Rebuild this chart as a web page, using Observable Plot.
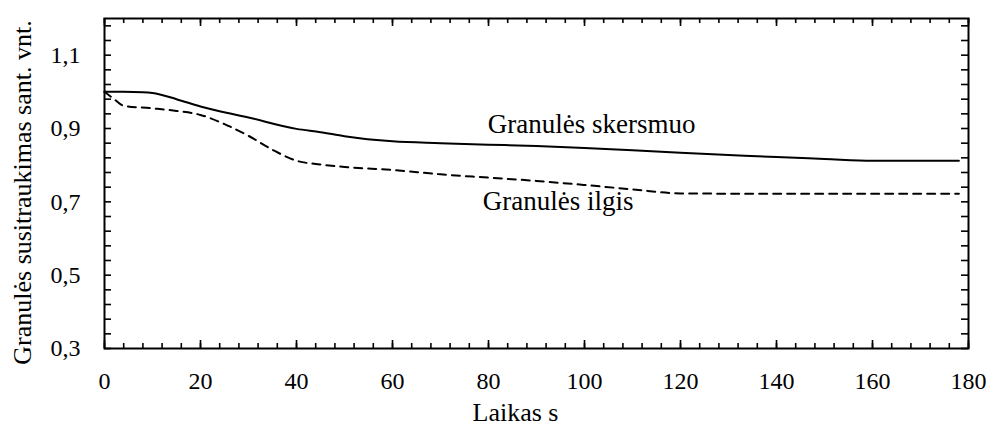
<!DOCTYPE html>
<html>
<head>
<meta charset="utf-8">
<script src="https://cdn.jsdelivr.net/npm/d3@7"></script>
<script src="https://cdn.jsdelivr.net/npm/@observablehq/plot@0.6"></script>
<style>
  html, body { margin: 0; padding: 0; background: #fff; }
  #chart svg, #chart svg text { font-family: "Liberation Serif", Tinos, "Times New Roman", Times, serif !important; }
</style>
</head>
<body>
<div id="chart"></div>
<script>
// Granule diameter (solid) and length (dashed) relative shrinkage over time
const diameterTime  = [0, 4, 8, 10, 15, 20, 30, 40, 45, 50, 60, 70, 80, 90, 100, 110, 120, 130, 140, 150, 160, 170, 178];
const diameterValue = [1.0, 1.0, 0.999, 0.997, 0.98, 0.96, 0.93, 0.899, 0.89, 0.879, 0.865, 0.86, 0.856, 0.852, 0.847, 0.841, 0.834, 0.828, 0.822, 0.817, 0.812, 0.812, 0.812];

const lengthTime  = [0, 2, 4, 10, 15, 20, 25, 30, 35, 40, 45, 50, 60, 70, 80, 90, 100, 110, 120, 140, 160, 178];
const lengthValue = [1.0, 0.98, 0.962, 0.955, 0.948, 0.937, 0.912, 0.88, 0.842, 0.812, 0.802, 0.795, 0.787, 0.775, 0.766, 0.757, 0.746, 0.734, 0.723, 0.722, 0.722, 0.722];

const xTicks = [0, 20, 40, 60, 80, 100, 120, 140, 160, 180];
const yTicks = [0.3, 0.5, 0.7, 0.9, 1.1];
const xMinorStep = 4;
const yMinorStep = 0.04;

const seriesNames  = ["Granulės skersmuo", "Granulės ilgis"];
const seriesLabelX = [101.5, 94.5];
const seriesLabelY = [0.911, 0.700];

const xTitle = "Laikas s";
const yTitle = "Granulės susitraukimas sant. vnt.";

const serif = "'Liberation Serif', Tinos, 'Times New Roman', Times, serif";
const width = 992, height = 432;
const marginLeft = 104, marginRight = 24, marginTop = 18, marginBottom = 84;
const plotW = width - marginLeft - marginRight;
const plotH = height - marginTop - marginBottom;

const diameter = diameterTime.map((t, i) => ({t, v: diameterValue[i]}));
const lengthData = lengthTime.map((t, i) => ({t, v: lengthValue[i]}));

const xMinor = d3.range(0, 180 + 1e-9, xMinorStep);
const yMinor = d3.range(0, 23).map(i => +(0.3 + yMinorStep * i).toFixed(2));

const fmt = d => d.toFixed(1).replace(".", ",");

const chart = Plot.plot({
  width, height, marginLeft, marginRight, marginTop, marginBottom,
  style: {fontFamily: serif, fontSize: "24px", color: "#000", background: "#fff"},
  x: {domain: [0, 180]},
  y: {domain: [0.3, 1.2]},
  marks: [
    // inward tick marks on all four sides
    Plot.tickX(xMinor, {x: d => d, insetTop: plotH - 5, strokeWidth: 1.6}),
    Plot.tickX(xTicks, {x: d => d, insetTop: plotH - 8, strokeWidth: 1.6}),
    Plot.tickX(xMinor, {x: d => d, insetBottom: plotH - 5, strokeWidth: 1.6}),
    Plot.tickX(xTicks, {x: d => d, insetBottom: plotH - 8, strokeWidth: 1.6}),
    Plot.tickY(yMinor, {y: d => d, insetRight: plotW - 7, strokeWidth: 1.6}),
    Plot.tickY(yMinor, {y: d => d, insetLeft: plotW - 7, strokeWidth: 1.6}),
    Plot.axisX({ticks: xTicks, tickSize: 0, tickPadding: 23, label: null, fontSize: 24, fontFamily: serif}),
    Plot.axisY({ticks: yTicks, tickSize: 0, tickPadding: 24, tickFormat: fmt, label: null, fontSize: 24, fontFamily: serif}),
    Plot.frame({strokeWidth: 2}),
    Plot.line(diameter, {x: "t", y: "v", curve: "monotone-x", strokeWidth: 2, stroke: "#000"}),
    Plot.line(lengthData, {x: "t", y: "v", curve: "monotone-x", strokeWidth: 2, stroke: "#000", strokeDasharray: "8,6"}),
    Plot.text(seriesNames, {
      x: (d, i) => seriesLabelX[i],
      y: (d, i) => seriesLabelY[i],
      fontSize: 27, fontFamily: serif, fill: "#000"
    }),
    Plot.text([xTitle], {frameAnchor: "bottom", dy: 72, dx: -21, fontSize: 26, fontFamily: serif, fill: "#000"}),
    Plot.text([yTitle], {frameAnchor: "left", textAnchor: "middle", rotate: -90, dx: -82, dy: 9, fontSize: 26, fontFamily: serif, fill: "#000"})
  ]
});

document.getElementById("chart").appendChild(chart);
</script>
</body>
</html>
